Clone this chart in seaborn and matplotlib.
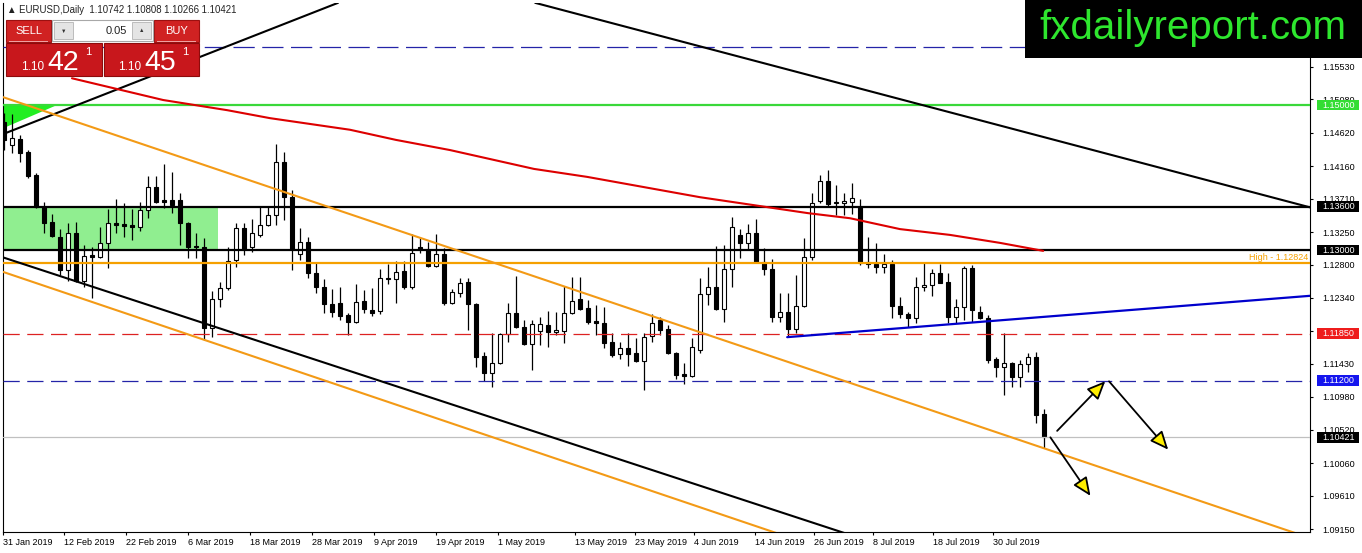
import matplotlib
matplotlib.use("Agg")
import matplotlib.pyplot as plt
from matplotlib.patches import Rectangle, Polygon, FancyArrowPatch
import numpy as np
import seaborn as sns

W, H = 1362, 553

# ---------------- data (EURUSD daily, 31 Jan - 1 Aug 2019) ----------------
opens = [1.1477, 1.1445, 1.1453, 1.1435, 1.1404, 1.1359, 1.1339, 1.1318, 1.1273, 1.1324,
         1.1257, 1.1293, 1.1291, 1.1310, 1.1337, 1.1336, 1.1335, 1.1332, 1.1355, 1.1387,
         1.1369, 1.1369, 1.1369, 1.1337, 1.1306, 1.1304, 1.1193, 1.1233, 1.1248, 1.1286,
         1.1330, 1.1304, 1.1321, 1.1335, 1.1348, 1.1421, 1.1373, 1.1295, 1.1311, 1.1268,
         1.1249, 1.1226, 1.1227, 1.1211, 1.1201, 1.1230, 1.1217, 1.1216, 1.1262, 1.1260,
         1.1271, 1.1249, 1.1304, 1.1300, 1.1278, 1.1295, 1.1227, 1.1241, 1.1256, 1.1226,
         1.1154, 1.1131, 1.1144, 1.1184, 1.1213, 1.1194, 1.1171, 1.1188, 1.1197, 1.1187,
         1.1188, 1.1213, 1.1233, 1.1220, 1.1202, 1.1200, 1.1173, 1.1157, 1.1165, 1.1158,
         1.1147, 1.1182, 1.1204, 1.1191, 1.1158, 1.1129, 1.1126, 1.1162, 1.1240, 1.1249,
         1.1219, 1.1274, 1.1321, 1.1310, 1.1324, 1.1284, 1.1274, 1.1208, 1.1215, 1.1191,
         1.1223, 1.1291, 1.1368, 1.1395, 1.1365, 1.1365, 1.1366, 1.1359, 1.1284, 1.1281,
         1.1277, 1.1281, 1.1223, 1.1212, 1.1206, 1.1249, 1.1252, 1.1268, 1.1256, 1.1208,
         1.1222, 1.1275, 1.1215, 1.1206, 1.1150, 1.1139, 1.1144, 1.1125, 1.1143, 1.1153,
         1.1074]
highs = [1.1489, 1.1488, 1.1459, 1.1438, 1.1406, 1.1366, 1.1350, 1.1329, 1.1337, 1.1339,
         1.1307, 1.1304, 1.1332, 1.1357, 1.1371, 1.1365, 1.1357, 1.1366, 1.1402, 1.1402,
         1.1419, 1.1408, 1.1379, 1.1339, 1.1324, 1.1317, 1.1244, 1.1256, 1.1304, 1.1337,
         1.1337, 1.1343, 1.1359, 1.1359, 1.1446, 1.1435, 1.1383, 1.1330, 1.1318, 1.1282,
         1.1260, 1.1246, 1.1249, 1.1213, 1.1253, 1.1245, 1.1248, 1.1274, 1.1281, 1.1285,
         1.1285, 1.1322, 1.1318, 1.1311, 1.1322, 1.1303, 1.1246, 1.1262, 1.1262, 1.1227,
         1.1160, 1.1186, 1.1186, 1.1227, 1.1264, 1.1204, 1.1204, 1.1208, 1.1216, 1.1215,
         1.1251, 1.1263, 1.1263, 1.1231, 1.1224, 1.1222, 1.1186, 1.1173, 1.1186, 1.1179,
         1.1186, 1.1212, 1.1208, 1.1197, 1.1159, 1.1144, 1.1179, 1.1262, 1.1277, 1.1306,
         1.1307, 1.1346, 1.1329, 1.1336, 1.1343, 1.1303, 1.1288, 1.1241, 1.1241, 1.1266,
         1.1317, 1.1379, 1.1404, 1.1410, 1.1390, 1.1379, 1.1393, 1.1371, 1.1318, 1.1310,
         1.1295, 1.1286, 1.1235, 1.1215, 1.1263, 1.1284, 1.1274, 1.1281, 1.1268, 1.1233,
         1.1278, 1.1280, 1.1223, 1.1211, 1.1152, 1.1186, 1.1146, 1.1149, 1.1158, 1.1160,
         1.1081]
lows = [1.1438, 1.1434, 1.1421, 1.1399, 1.1358, 1.1324, 1.1318, 1.1266, 1.1257, 1.1256,
        1.1249, 1.1234, 1.1289, 1.1275, 1.1324, 1.1318, 1.1314, 1.1326, 1.1344, 1.1365,
        1.1358, 1.1351, 1.1307, 1.1289, 1.1289, 1.1176, 1.1180, 1.1222, 1.1245, 1.1277,
        1.1293, 1.1297, 1.1318, 1.1333, 1.1335, 1.1342, 1.1273, 1.1286, 1.1262, 1.1241,
        1.1213, 1.1208, 1.1204, 1.1183, 1.1200, 1.1213, 1.1209, 1.1212, 1.1253, 1.1227,
        1.1247, 1.1247, 1.1296, 1.1277, 1.1277, 1.1224, 1.1226, 1.1235, 1.1190, 1.1139,
        1.1120, 1.1111, 1.1143, 1.1173, 1.1193, 1.1169, 1.1135, 1.1169, 1.1166, 1.1183,
        1.1172, 1.1212, 1.1217, 1.1198, 1.1183, 1.1165, 1.1153, 1.1150, 1.1140, 1.1146,
        1.1107, 1.1173, 1.1183, 1.1157, 1.1122, 1.1115, 1.1125, 1.1158, 1.1224, 1.1217,
        1.1201, 1.1249, 1.1289, 1.1302, 1.1283, 1.1266, 1.1201, 1.1201, 1.1182, 1.1186,
        1.1222, 1.1286, 1.1365, 1.1359, 1.1348, 1.1348, 1.1350, 1.1280, 1.1275, 1.1268,
        1.1268, 1.1206, 1.1206, 1.1194, 1.1200, 1.1244, 1.1237, 1.1254, 1.1200, 1.1200,
        1.1204, 1.1201, 1.1205, 1.1144, 1.1125, 1.1100, 1.1111, 1.1111, 1.1132, 1.1062,
        1.1027]
closes = [1.1452, 1.1455, 1.1434, 1.1402, 1.1359, 1.1337, 1.1320, 1.1273, 1.1324, 1.1257,
          1.1292, 1.1291, 1.1310, 1.1337, 1.1335, 1.1333, 1.1332, 1.1355, 1.1387, 1.1366,
          1.1366, 1.1362, 1.1337, 1.1304, 1.1304, 1.1193, 1.1233, 1.1248, 1.1285, 1.1330,
          1.1302, 1.1324, 1.1335, 1.1348, 1.1421, 1.1373, 1.1302, 1.1311, 1.1268, 1.1249,
          1.1226, 1.1215, 1.1209, 1.1201, 1.1228, 1.1219, 1.1213, 1.1262, 1.1260, 1.1270,
          1.1249, 1.1296, 1.1302, 1.1278, 1.1295, 1.1227, 1.1242, 1.1255, 1.1226, 1.1153,
          1.1131, 1.1144, 1.1184, 1.1213, 1.1194, 1.1171, 1.1198, 1.1198, 1.1187, 1.1190,
          1.1213, 1.1230, 1.1219, 1.1201, 1.1200, 1.1172, 1.1155, 1.1165, 1.1157, 1.1147,
          1.1180, 1.1200, 1.1190, 1.1158, 1.1128, 1.1126, 1.1166, 1.1240, 1.1249, 1.1219,
          1.1274, 1.1332, 1.1310, 1.1324, 1.1284, 1.1274, 1.1208, 1.1215, 1.1191, 1.1223,
          1.1291, 1.1365, 1.1395, 1.1364, 1.1366, 1.1368, 1.1372, 1.1282, 1.1281, 1.1277,
          1.1281, 1.1223, 1.1212, 1.1206, 1.1249, 1.1252, 1.1268, 1.1255, 1.1208, 1.1222,
          1.1275, 1.1217, 1.1206, 1.1149, 1.1139, 1.1144, 1.1125, 1.1143, 1.1153, 1.1073,
          1.1042]

# moving average (red), read at a handful of bars
ma_bars = [8.5, 19.9, 27.9, 33.25, 43.25, 49, 55.75, 66.25, 72.9, 87, 100.5, 105.75, 112, 118.25, 124.5, 129.9]
ma_vals = [1.1537, 1.1507, 1.1493, 1.1482, 1.1466, 1.1452, 1.1438, 1.1412, 1.1401, 1.1373,
           1.1351, 1.1344, 1.1329, 1.1321, 1.1310, 1.1299]

# date axis
date_labels = ["31 Jan 2019", "12 Feb 2019", "22 Feb 2019", "6 Mar 2019", "18 Mar 2019",
               "28 Mar 2019", "9 Apr 2019", "19 Apr 2019", "1 May 2019", "13 May 2019",
               "23 May 2019", "4 Jun 2019", "14 Jun 2019", "26 Jun 2019", "8 Jul 2019",
               "18 Jul 2019", "30 Jul 2019"]
date_pos = [-0.1, 7.5, 15.25, 23, 30.75, 38.5, 46.25, 54, 61.75, 71.4, 78.9, 86.25, 93.9,
            101.25, 108.6, 116.1, 123.6]

price_ticks = [1.15530, 1.15080, 1.14620, 1.14160, 1.13710, 1.13250, 1.12800, 1.12340,
               1.11890, 1.11430, 1.10980, 1.10520, 1.10060, 1.09610, 1.09150]

# horizontal levels
lvl_green = 1.15000
lvl_black = [1.13600, 1.13000]
lvl_high = 1.12824
lvl_red = 1.11850
lvl_blue = 1.11200
lvl_top_blue = 1.15800
bid = 1.10421

# trend lines as (bar, price) end points
tl_top_black = ([66.4, 163.25], [1.1641, 1.1359])
tl_up_black = ([-0.125, 41.75], [1.1460, 1.1641])
tl_low_black = ([-0.125, 110.0], [1.1290, 1.0892])
tl_orange_up = ([-0.125, 163.25], [1.1511, 1.0903])
tl_orange_low = ([-0.125, 100.0], [1.1270, 1.0897])
tl_blue = ([97.9, 163.25], [1.1180, 1.1237])

# projection arrows
arrows = [((131.4, 1.1048), (137.9, 1.1122)),
          ((137.9, 1.1122), (145.75, 1.1022)),
          ((130.6, 1.1045), (136.0, 1.0958))]

# ---------------- figure ----------------
sns.set_theme(style="white")
plt.rcParams["font.family"] = ["Liberation Sans", "DejaVu Sans"]

fig = plt.figure(figsize=(W / 100, H / 100), dpi=100)
fig.patch.set_facecolor("white")
ax = fig.add_axes([3 / W, (H - 532) / H, 1307 / W, 529 / H])
ax.set_facecolor("white")
ax.set_xlim(-0.125, 163.25)
ax.set_ylim(1.09113, 1.16408)

idx = np.arange(len(opens))
o = np.array(opens)
c = np.array(closes)

# support zone + green triangle
ax.add_patch(Rectangle((-0.125, 1.1300), 26.875, 0.0060, fc="#90ee90", ec="none", zorder=1))
ax.add_patch(Polygon([(-0.125, 1.1499), (6.4, 1.1499), (-0.125, 1.1468)], closed=True,
                     fc="#22ee22", ec="none", zorder=1))

# candles
ax.vlines(idx, lows, highs, color="black", lw=0.9, zorder=2)
body_lo = np.minimum(o, c)
body_h = np.maximum(np.abs(c - o), 0.00006)
face = ["white" if cc > oo else "black" for oo, cc in zip(o, c)]
ax.bar(idx, body_h, bottom=body_lo, width=0.56, color=face, edgecolor="black", lw=0.8, zorder=2.5)

# horizontal lines
ax.axhline(lvl_top_blue, color="#2424a8", lw=0.9, ls=(0, (17, 6)), zorder=3)
ax.axhline(lvl_green, color="#3ad83a", lw=1.6, zorder=3)
for lv in lvl_black:
    ax.axhline(lv, color="black", lw=1.6, zorder=3)
ax.axhline(lvl_high, color="#f5a000", lw=1.6, zorder=3)
ax.axhline(lvl_red, color="#dd2222", lw=0.9, ls=(0, (13, 6)), zorder=3)
ax.axhline(lvl_blue, color="#2424a8", lw=0.9, ls=(0, (13, 6)), zorder=3)
ax.axhline(bid, color="#c0c0c0", lw=0.9, zorder=3)

# trend lines
ax.plot(*tl_top_black, color="black", lw=1.5, zorder=3)
ax.plot(*tl_up_black, color="black", lw=1.5, zorder=3)
ax.plot(*tl_low_black, color="black", lw=1.5, zorder=3)
ax.plot(*tl_orange_up, color="#f39a16", lw=1.5, zorder=3)
ax.plot(*tl_orange_low, color="#f39a16", lw=1.5, zorder=3)
ax.plot(*tl_blue, color="#0000cc", lw=1.6, zorder=3)

# moving average
sns.lineplot(x=ma_bars, y=ma_vals, ax=ax, color="#dd0000", linewidth=1.5, zorder=3)

ax.text(163.0, lvl_high + 0.0001, "High - 1.12824", color="#f5a000", fontsize=6.5,
        ha="right", va="bottom", zorder=4)

for a, b in arrows:
    ax.add_patch(FancyArrowPatch(a, b, arrowstyle="-|>,head_length=0.8,head_width=0.35",
                                 mutation_scale=14, fc="#ffee00", ec="black", lw=1.3, zorder=6))

# axes styling
for side in ["left", "bottom", "right"]:
    ax.spines[side].set_visible(True)
    ax.spines[side].set_color("black")
    ax.spines[side].set_linewidth(0.8)
ax.spines["top"].set_visible(False)

ax.yaxis.tick_right()
ax.set_yticks(price_ticks)
ax.set_yticklabels([f"{p:.5f}" for p in price_ticks])
ax.tick_params(axis="y", which="both", right=True, left=False, direction="out", length=2.5,
               width=0.8, pad=6.5, labelsize=6.5, colors="black")
ax.set_xticks(date_pos)
ax.set_xticklabels(date_labels)
for lbl in ax.get_xticklabels():
    lbl.set_horizontalalignment("left")
ax.tick_params(axis="x", bottom=True, direction="out", length=2.5, width=0.8, pad=2,
               labelsize=6.5, colors="black")
ax.set_xlabel("")
ax.set_ylabel("")
ax.grid(False)

# coloured price boxes on the right scale
boxes = [(lvl_green, "#33dd33"), (1.13600, "black"), (1.13000, "black"),
         (lvl_red, "#ee1c1c"), (lvl_blue, "#1515ee"), (bid, "black")]
ytr = ax.get_yaxis_transform()
for lv, fc in boxes:
    ax.add_patch(Rectangle((1.0054, lv - 0.00074), 0.0321, 0.00148, transform=ytr,
                           fc=fc, ec="none", clip_on=False, zorder=8))
    ax.text(1.0092, lv, f"{lv:.5f}", transform=ytr, color="white", fontsize=6.5,
            ha="left", va="center", clip_on=False, zorder=9)


# ---------------- overlays in pixel space ----------------
def px_rect(x, y, w, h, **kw):
    fig.add_artist(Rectangle((x / W, 1 - (y + h) / H), w / W, h / H,
                             transform=fig.transFigure, **kw))


def px_text(x, y, s, **kw):
    fig.text(x / W, 1 - y / H, s, **kw)


px_text(7, 10, "▲ EURUSD,Daily  1.10742 1.10808 1.10266 1.10421", fontsize=6.9,
        ha="left", va="center", color="#222222")

# one-click trading panel
px_rect(6, 20, 45, 22, fc="#d02222", ec="#9c1010", lw=0.8, zorder=10)
px_rect(154, 20, 45, 22, fc="#d02222", ec="#9c1010", lw=0.8, zorder=10)
px_rect(52, 20, 101, 21, fc="white", ec="#a8a8a8", lw=0.8, zorder=10)
px_rect(54, 22, 19, 17, fc="#e4e4e4", ec="#b4b4b4", lw=0.6, zorder=11)
px_rect(132, 22, 19, 17, fc="#e4e4e4", ec="#b4b4b4", lw=0.6, zorder=11)
px_rect(6, 43, 96, 33, fc="#c8171c", ec="#8e0b0b", lw=0.8, zorder=10)
px_rect(104, 43, 95, 33, fc="#c8171c", ec="#8e0b0b", lw=0.8, zorder=10)
px_rect(9, 41, 39, 0.8, fc="#f0a0a0", ec="none", zorder=11)
px_rect(157, 41, 39, 0.8, fc="#f0a0a0", ec="none", zorder=11)

px_text(28.5, 31, "SELL", fontsize=8, color="white", ha="center", va="center", zorder=12)
px_text(176.5, 31, "BUY", fontsize=8, color="white", ha="center", va="center", zorder=12)
px_text(63.5, 31, "▼", fontsize=4, color="#333333", ha="center", va="center", zorder=12)
px_text(141.5, 31, "▲", fontsize=4, color="#333333", ha="center", va="center", zorder=12)
px_text(127, 31, "0.05", fontsize=8, color="#222222", ha="right", va="center", zorder=12)

for x0, big in [(21, "42"), (118, "45")]:
    px_text(x0, 70, "1.10", fontsize=8.5, color="white", ha="left", va="baseline", zorder=12)
    px_text(x0 + 26, 70, big, fontsize=20.5, color="white", ha="left", va="baseline", zorder=12)
    px_text(x0 + 64, 55, "1", fontsize=8, color="white", ha="left", va="baseline", zorder=12)

# watermark box
px_rect(1025, 0, 337, 58, fc="black", ec="none", zorder=20)
px_text(1193, 28, "fxdailyreport.com", fontsize=29, color="#2ee62e", ha="center",
        va="center", zorder=21)

fig.savefig("out.png", dpi=100, facecolor="white")
